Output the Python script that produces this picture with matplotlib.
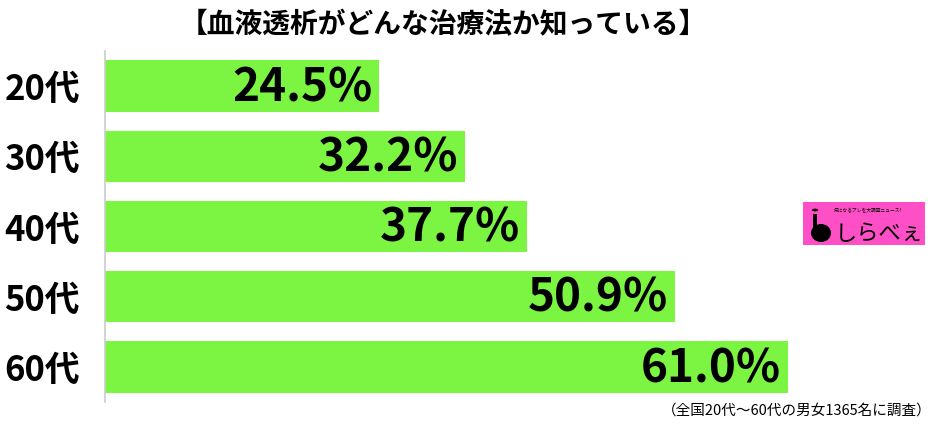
import matplotlib
matplotlib.use("Agg")
import matplotlib.pyplot as plt
from matplotlib.patches import Rectangle, Circle, Ellipse

plt.rcParams['font.family'] = ['Noto Sans CJK JP', 'DejaVu Sans']

categories = ["20代", "30代", "40代", "50代", "60代"]
values = [24.5, 32.2, 37.7, 50.9, 61.0]
value_labels = ["24.5%", "32.2%", "37.7%", "50.9%", "61.0%"]
title = "【血液透析がどんな治療法か知っている】"
footnote = "（全国20代～60代の男女1365名に調査）"

W, H = 941, 438
fig = plt.figure(figsize=(W / 100, H / 100), dpi=100)
ax = fig.add_axes([105 / W, (H - 402) / H, (W - 105) / W, (402 - 51) / H])

ypos = list(range(len(categories)))
ax.barh(ypos, values, height=0.735, color="#7CF442", zorder=2)
ax.set_xlim(0, (W - 105) / 11.19)
ax.set_ylim(len(categories) - 0.5, -0.5)
ax.set_yticks(ypos)
ax.set_yticklabels(categories, fontsize=25, fontweight="bold")
ax.tick_params(axis="y", length=0, pad=18)
ax.set_xticks([])
for s in ["top", "right", "bottom"]:
    ax.spines[s].set_visible(False)
ax.spines["left"].set_color("#CCCCCC")
ax.spines["left"].set_linewidth(1.2)

for y, v, lab in zip(ypos, values, value_labels):
    ax.text(v - 0.6, y + 0.03, lab, ha="right", va="center", fontsize=33,
            fontweight="bold", color="black", zorder=3)

fig.text(443 / W, 1 - 25 / H, title, ha="center", va="center", fontsize=20,
         fontweight="bold")
fig.text(932 / W, 1 - 411 / H, footnote, ha="right", va="center", fontsize=10.5)

# logo
lx0, ly0, lx1, ly1 = 803, 202, 925, 245
fig.patches.append(Rectangle((lx0 / W, 1 - ly1 / H), (lx1 - lx0) / W, (ly1 - ly0) / H,
                             transform=fig.transFigure, facecolor="#FF4FC6",
                             edgecolor="none"))
fig.text(835 / W, 1 - 233 / H, "しらべぇ", ha="left", va="center", fontsize=16,
         color="black")
fig.text(868 / W, 1 - 211 / H, "気になるアレを大調査ニュース!", ha="center",
         va="center", fontsize=3.4, color="black")
fig.patches.append(Ellipse((821 / W, 1 - 233 / H), 20 / W, 18 / H,
                           transform=fig.transFigure, facecolor="black",
                           edgecolor="none"))
fig.patches.append(Circle((815 / W, 1 - 210 / H), 3 / W,
                          transform=fig.transFigure, facecolor="black",
                          edgecolor="none"))
fig.patches.append(Rectangle((813 / W, 1 - 230 / H), 4 / W, 16 / H,
                             transform=fig.transFigure, facecolor="black",
                             edgecolor="none"))

fig.savefig("out.png", dpi=100)
